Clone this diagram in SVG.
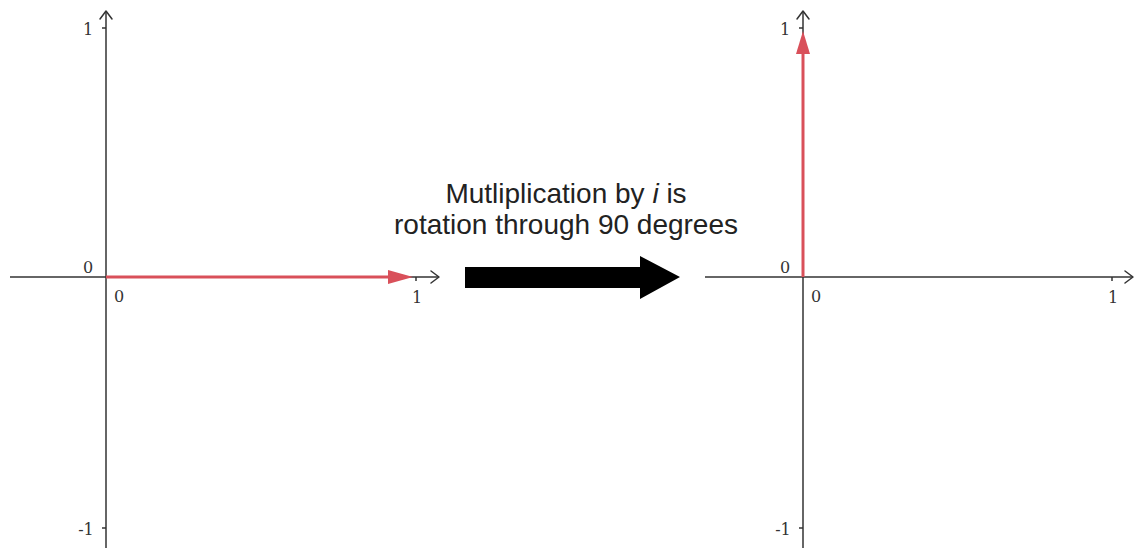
<svg xmlns="http://www.w3.org/2000/svg" width="1136" height="550" viewBox="0 0 1136 550">
<style>
.ax{stroke:#333;stroke-width:1.5;fill:none}
.chev{stroke:#333;stroke-width:1.5;fill:none;stroke-linecap:round;stroke-linejoin:round}
.tick{stroke:#333;stroke-width:1.5}
.lbl{font-family:"DejaVu Serif","Liberation Serif",serif;font-size:16px;fill:#333;text-anchor:middle}
.vec{stroke:#d9505a;stroke-width:3}
.vh{fill:#d9505a}
.cap{font-family:"Liberation Sans",Arial,sans-serif;font-size:28px;fill:#222;text-anchor:middle}
</style>
<rect width="1136" height="550" fill="#fff"/>
<g id="left-plane">
<line class="ax" x1="10" y1="277" x2="439" y2="277"/>
<line class="ax" x1="106" y1="11" x2="106" y2="548"/>
<polyline class="chev" points="431,271 439,277 431,283"/>
<polyline class="chev" points="100,19 106,11 112,19"/>
<line class="tick" x1="102" y1="28" x2="106" y2="28"/>
<line class="tick" x1="102" y1="528" x2="106" y2="528"/>
<line class="tick" x1="416" y1="277" x2="416" y2="281"/>
<text class="lbl" x="88" y="35">1</text>
<text class="lbl" x="86" y="535">-1</text>
<text class="lbl" x="88" y="273">0</text>
<text class="lbl" x="119" y="302">0</text>
<text class="lbl" x="417" y="303">1</text>
</g>
<g id="right-plane">
<line class="ax" x1="705" y1="277" x2="1133" y2="277"/>
<line class="ax" x1="803" y1="11" x2="803" y2="548"/>
<polyline class="chev" points="1125,271 1133,277 1125,283"/>
<polyline class="chev" points="797,19 803,11 809,19"/>
<line class="tick" x1="799" y1="28" x2="803" y2="28"/>
<line class="tick" x1="799" y1="528" x2="803" y2="528"/>
<line class="tick" x1="1112" y1="277" x2="1112" y2="281"/>
<text class="lbl" x="785" y="35">1</text>
<text class="lbl" x="783" y="535">-1</text>
<text class="lbl" x="785" y="273">0</text>
<text class="lbl" x="816" y="302">0</text>
<text class="lbl" x="1113" y="303">1</text>
</g>
<g id="vectors">
<line class="vec" x1="106" y1="277" x2="392" y2="277"/>
<polygon class="vh" points="388,270 413,277 388,284"/>
<line class="vec" x1="803" y1="277" x2="803" y2="52"/>
<polygon class="vh" points="796,54 803,31 810,54"/>
</g>
<g id="caption">
<text class="cap" x="566" y="203">Mutliplication by <tspan font-style="italic">i</tspan> is</text>
<text class="cap" x="566" y="234">rotation through 90 degrees</text>
</g>
<g id="connectors">
<polygon fill="#000" points="465,267 640,267 640,256 680,277 640,299 640,288 465,288"/>
</g>
</svg>
